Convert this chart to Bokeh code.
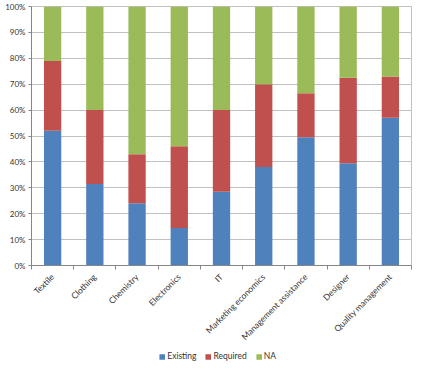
import numpy as np
from bokeh.plotting import figure
from bokeh.layouts import column
from bokeh.models import ColumnDataSource, Range1d, FixedTicker, NumeralTickFormatter, Legend, LegendItem
from bokeh.embed import file_html
from bokeh.resources import INLINE

categories = ["Textile", "Clothing", "Chemistry", "Electronics", "IT",
              "Marketing economics", "Management assistance", "Designer", "Quality management"]
existing = [52, 31.5, 24, 14.5, 28.5, 38, 49.5, 39.5, 57]
required = [27, 28.5, 19, 31.5, 31.5, 32, 17, 33, 16]
na = [21, 40, 57, 54, 40, 30, 33.5, 27.5, 27]
series = ["Existing", "Required", "NA"]
colors = ["#4F81BD", "#C0504D", "#9BBB59"]

x = [i + 0.5 for i in range(len(categories))]
src = ColumnDataSource(dict(
    x=x,
    Existing=[v / 100 for v in existing],
    Required=[v / 100 for v in required],
    NA=[v / 100 for v in na],
))

FONT = "Lato"
p = figure(width=416, height=348, output_backend="svg", toolbar_location=None,
           x_range=Range1d(0, len(categories)), y_range=Range1d(0, 1),
           min_border_left=31, min_border_right=5, min_border_top=6, min_border_bottom=81,
           border_fill_color="white")

p.vbar_stack(series, x="x", width=0.41, source=src, color=colors, line_color=None)

p.xgrid.visible = False
p.ygrid.grid_line_color = "#c0c0c0"
p.ygrid.grid_line_width = 1
p.yaxis.ticker = FixedTicker(ticks=[i / 10 for i in range(11)])
p.yaxis.formatter = NumeralTickFormatter(format="0%")
p.yaxis.axis_line_color = "#868686"
p.yaxis.major_tick_line_color = "#868686"
p.yaxis.major_tick_out = 3
p.yaxis.major_tick_in = 0
p.yaxis.minor_tick_line_color = None
p.yaxis.major_label_text_font = FONT
p.yaxis.major_label_text_font_size = "8px"
p.yaxis.major_label_text_color = "#333333"
p.yaxis.major_label_standoff = 3

p.xaxis.ticker = FixedTicker(ticks=x, minor_ticks=list(range(len(categories) + 1)))
p.xaxis.major_label_overrides = {xi: c for xi, c in zip(x, categories)}
p.xaxis.major_label_orientation = np.pi / 4
p.xaxis.major_tick_out = 0
p.xaxis.major_tick_in = 0
p.xaxis.minor_tick_out = 4
p.xaxis.minor_tick_in = 0
p.xaxis.minor_tick_line_color = "#868686"
p.xaxis.axis_line_color = "#868686"
p.xaxis.major_label_text_font = FONT
p.xaxis.major_label_text_font_size = "8.5px"
p.xaxis.major_label_text_color = "#333333"
p.xaxis.major_label_standoff = 6

p.outline_line_color = "#c0c0c0"

# Legend strip below the chart (swatch renderers sit outside the visible range)
p2 = figure(width=416, height=16, output_backend="svg", toolbar_location=None,
            x_range=Range1d(0, 1), y_range=Range1d(0, 1),
            x_axis_location=None, y_axis_location=None, min_border=0,
            border_fill_color="white", outline_line_color=None)
p2.grid.visible = False
swatches = [p2.vbar(x=[-5], top=[0], width=0.1, color=c, line_color=None) for c in colors]
legend = Legend(items=[LegendItem(label=s, renderers=[r]) for s, r in zip(series, swatches)],
                orientation="horizontal", location="center",
                label_text_font=FONT, label_text_font_size="8.5px", label_text_color="#333333",
                glyph_width=7, glyph_height=7, spacing=8, label_standoff=2,
                padding=1, margin=0, border_line_color=None, background_fill_alpha=0)
p2.add_layout(legend, "center")

layout = column(p, p2, spacing=0)
open("out.html", "w").write(file_html(layout, INLINE))
